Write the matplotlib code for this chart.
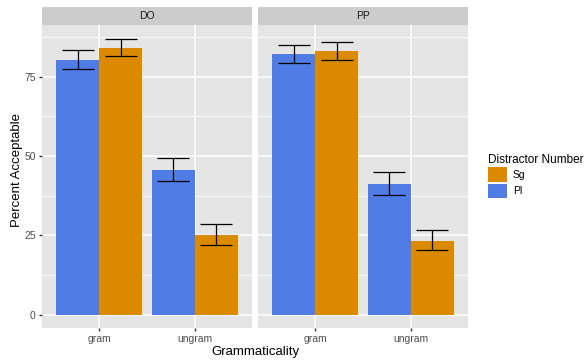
import matplotlib.pyplot as plt
from matplotlib.patches import Patch
import numpy as np

plt.rcParams['font.family'] = ['Liberation Sans', 'DejaVu Sans']

panels = ["DO", "PP"]
categories = ["gram", "ungram"]
series = ["Pl", "Sg"]

# mean percent acceptable, [panel][category]
pl_mean = [[80.2, 45.6], [82.1, 41.3]]
sg_mean = [[83.9, 25.2], [83.0, 23.4]]
pl_low = [[77.4, 42.0], [79.2, 37.7]]
pl_high = [[83.2, 49.4], [85.0, 45.1]]
sg_low = [[81.3, 21.9], [80.2, 20.3]]
sg_high = [[86.8, 28.6], [85.8, 26.7]]

BLUE = "#507DE5"
ORANGE = "#DB8A00"
PANEL_BG = "#E5E5E5"
STRIP_BG = "#CCCCCC"

W, H = 587, 360
fig = plt.figure(figsize=(W / 100, H / 100), dpi=100)

panel_lefts = [42, 258]
pw = 210
top, bottom = 25, 328
strip_top = 6.5

ymin, ymax = -4.1, 91.2
x = np.arange(1, len(categories) + 1)
dw = 0.45

for p, name in enumerate(panels):
    left = panel_lefts[p]
    ax = fig.add_axes([left / W, 1 - bottom / H, pw / W, (bottom - top) / H])
    ax.set_facecolor(PANEL_BG)
    for s in ax.spines.values():
        s.set_visible(False)
    ax.set_xlim(0.4, 2.6)
    ax.set_ylim(ymin, ymax)
    ax.set_yticks([0, 25, 50, 75])
    ax.set_yticks([12.5, 37.5, 62.5, 87.5], minor=True)
    ax.set_xticks(x)
    ax.set_xticklabels(categories)
    ax.grid(which='major', color='white', lw=1.1)
    ax.grid(which='minor', axis='y', color='white', lw=0.55)
    ax.set_axisbelow(True)
    ax.tick_params(which='major', length=2.5, width=1, color='#333333',
                   labelsize=7.5, labelcolor='#4D4D4D', pad=2)
    ax.tick_params(which='minor', length=0)
    if p > 0:
        ax.tick_params(axis='y', length=0, labelleft=False)

    pm = np.array(pl_mean[p])
    sm = np.array(sg_mean[p])
    ax.bar(x - dw / 2, pm, width=dw, color=BLUE, zorder=2)
    ax.bar(x + dw / 2, sm, width=dw, color=ORANGE, zorder=2)
    ax.errorbar(x - dw / 2, pm,
                yerr=[pm - np.array(pl_low[p]), np.array(pl_high[p]) - pm],
                fmt='none', ecolor='black', elinewidth=0.9, capsize=11.5,
                capthick=0.9, zorder=3)
    ax.errorbar(x + dw / 2, sm,
                yerr=[sm - np.array(sg_low[p]), np.array(sg_high[p]) - sm],
                fmt='none', ecolor='black', elinewidth=0.9, capsize=11.5,
                capthick=0.9, zorder=3)

    sax = fig.add_axes([left / W, 1 - top / H, pw / W, (top - strip_top) / H])
    sax.set_facecolor(STRIP_BG)
    sax.set_xticks([])
    sax.set_yticks([])
    for s in sax.spines.values():
        s.set_visible(False)
    sax.text(0.5, 0.5, name, ha='center', va='center', fontsize=7.5,
             color='#1A1A1A', transform=sax.transAxes)

fig.text(17 / W, 1 - 170 / H, "Percent Acceptable", rotation=90,
         ha='center', va='center', fontsize=9.5)
fig.text(255 / W, 1 - 352 / H, "Grammaticality", ha='center', va='center',
         fontsize=9.5)

handles = [Patch(facecolor=ORANGE, label="Sg"), Patch(facecolor=BLUE, label="Pl")]
fig.legend(handles=handles, title="Distractor Number", loc='center left',
           bbox_to_anchor=(480 / W, 1 - 176 / H), frameon=False,
           fontsize=7.5, title_fontsize=8.5, handlelength=1.75,
           handleheight=1.8, labelspacing=0.15, handletextpad=0.6,
           borderpad=0.3, alignment='left')

fig.savefig("out.png", dpi=100)
